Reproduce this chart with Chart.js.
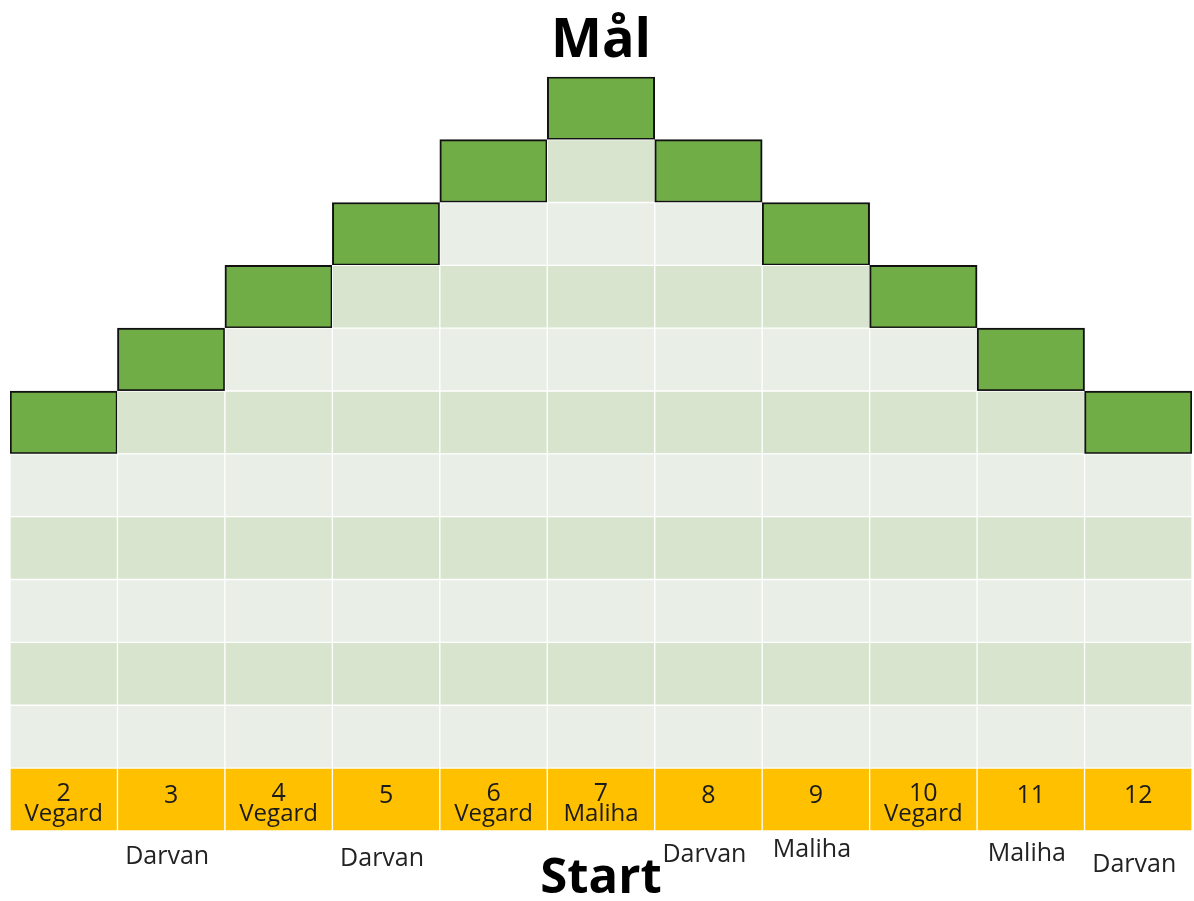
<!DOCTYPE html>
<html>
<head>
<meta charset="utf-8">
<script src="https://cdn.jsdelivr.net/npm/chart.js@4.4.0/dist/chart.umd.min.js"></script>
<style>
  html, body { margin: 0; padding: 0; background: #fff; }
  #wrap { width: 1194px; height: 901px; }
</style>
</head>
<body>
<div id="wrap"><canvas id="ladder"></canvas></div>
<script>
// columns (dice sums) and how many cells tall each column is
const numbers = ['2', '3', '4', '5', '6', '7', '8', '9', '10', '11', '12'];
const heights = [6, 7, 8, 9, 10, 11, 10, 9, 8, 7, 6];
// names written inside the yellow cells and under them
const insideNames = ['Vegard', '', 'Vegard', '', 'Vegard', 'Maliha', '', '', 'Vegard', '', ''];
const belowNames = ['', 'Darvan', '', 'Darvan', '', '', 'Darvan', 'Maliha', '', 'Maliha', 'Darvan'];

const GREEN = '#70ad47';
const LIGHT = '#e9efe7';
const DARK = '#d8e4ce';
const YELLOW = '#ffc000';
const TEXT = '#1b1b1b';
const FONT = '"Open Sans", "DejaVu Sans", sans-serif';
// small vertical nudges of the names under the cells
const belowDrop = [0, 0, 0, 2, 0, 0, -2, -7, 0, -3, 8];

const rowCount = Math.max(...heights);

const datasets = [{
  label: 'start',
  data: numbers.map(() => 1),
  backgroundColor: YELLOW,
  borderColor: '#ffffff',
  borderWidth: 1,
  borderSkipped: false
}];

for (let r = 1; r <= rowCount; r++) {
  datasets.push({
    label: 'row ' + r,
    data: heights.map(h => h >= r ? 1 : null),
    backgroundColor: heights.map(h => h === r ? GREEN : (r % 2 ? LIGHT : DARK)),
    borderColor: heights.map(h => h === r ? '#111111' : '#ffffff'),
    borderWidth: heights.map(h => h === r ? 2 : 1),
    borderSkipped: false
  });
}

const labelPlugin = {
  id: 'cellLabels',
  afterDatasetsDraw(chart) {
    const ctx = chart.ctx;
    const xs = chart.scales.x;
    const ys = chart.scales.y;
    const cellTop = ys.getPixelForValue(1);
    const cellBottom = ys.getPixelForValue(0);
    ctx.save();
    ctx.fillStyle = TEXT;
    ctx.textAlign = 'center';
    ctx.textBaseline = 'alphabetic';
    numbers.forEach((n, i) => {
      const x = xs.getPixelForValue(i);
      ctx.font = '25px ' + FONT;
      ctx.fillText(n, x, cellTop + (insideNames[i] ? 33 : 35));
      if (insideNames[i]) {
        ctx.font = '24px ' + FONT;
        ctx.fillText(insideNames[i], x, cellTop + 53);
      }
      if (belowNames[i]) {
        ctx.font = '25px ' + FONT;
        ctx.fillStyle = '#222222';
        ctx.fillText(belowNames[i], x - 4, cellBottom + 33 + belowDrop[i]);
        ctx.fillStyle = TEXT;
      }
    });
    ctx.restore();
  }
};

document.addEventListener('DOMContentLoaded', function() {
  const ctx = document.getElementById('ladder').getContext('2d');
  new Chart(ctx, {
    type: 'bar',
    data: { labels: numbers, datasets: datasets },
    options: {
      responsive: true,
      maintainAspectRatio: false,
      animation: false,
      events: [],
      layout: { padding: { left: 10, right: 2, top: 0, bottom: 0 } },
      datasets: { bar: { categoryPercentage: 1, barPercentage: 1 } },
      scales: {
        x: { stacked: true, display: false },
        y: { stacked: true, display: false, min: 0, max: rowCount + 1 }
      },
      plugins: {
        legend: { display: false },
        tooltip: { enabled: false },
        title: {
          display: true,
          text: 'Mål',
          color: '#000',
          font: { family: FONT, size: 54, weight: 'bold', lineHeight: 1.2 },
          padding: { top: 9, bottom: 3 }
        },
        subtitle: {
          display: true,
          position: 'bottom',
          text: 'Start',
          color: '#000',
          font: { family: FONT, size: 49, weight: 'bold', lineHeight: 0.9 },
          padding: { top: 26, bottom: 0 }
        }
      }
    },
    plugins: [labelPlugin]
  });
});
</script>
</body>
</html>
